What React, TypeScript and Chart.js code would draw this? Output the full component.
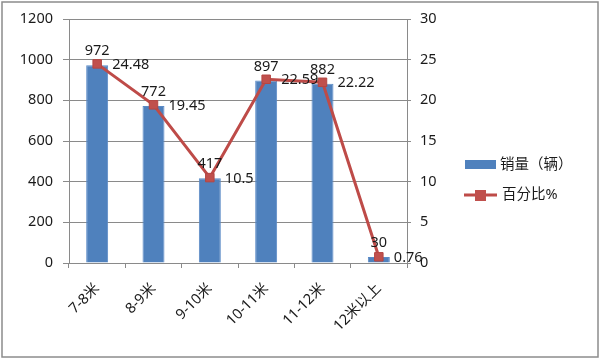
import React, { useEffect, useRef } from "react";
import { Chart, registerables } from "chart.js";

Chart.register(...registerables);

const categories = ["7-8米", "8-9米", "9-10米", "10-11米", "11-12米", "12米以上"];
const salesValues = [972, 772, 417, 897, 882, 30];
const percentValues = [24.48, 19.45, 10.5, 22.59, 22.22, 0.76];
const salesLabel = "销量（辆）";
const percentLabel = "百分比%";

const FONT = '"Noto Sans", "Noto Sans CJK SC", sans-serif';
const FS = 14.5;
const BAR_COLOR = "#4F81BD";
const LINE_COLOR = "#BE4B48";
const POINT_COLOR = "#C0504D";
const GRID = "#8a8a8a";
const TEXT = "#1a1a1a";

const labelPlugin = {
  id: "labelsAndLegend",
  afterDatasetsDraw(chart: any) {
    const ctx = chart.ctx;
    ctx.save();
    ctx.fillStyle = TEXT;
    ctx.font = `${FS}px ${FONT}`;
    const barMeta = chart.getDatasetMeta(0);
    barMeta.data.forEach((el: any, i: number) => {
      ctx.textAlign = "center";
      ctx.textBaseline = "alphabetic";
      ctx.fillText(String(salesValues[i]), el.x, el.y - 10);
    });
    const lineMeta = chart.getDatasetMeta(1);
    lineMeta.data.forEach((el: any, i: number) => {
      ctx.textAlign = "left";
      ctx.textBaseline = "middle";
      ctx.fillText(String(percentValues[i]), el.x + 15, el.y + 1);
    });
    ctx.restore();
  },
  afterDraw(chart: any) {
    const ctx = chart.ctx;
    ctx.save();
    ctx.font = `${FS}px ${FONT}`;
    ctx.fillStyle = BAR_COLOR;
    ctx.fillRect(465, 160, 31, 9);
    ctx.fillStyle = TEXT;
    ctx.textAlign = "left";
    ctx.textBaseline = "middle";
    ctx.fillText(salesLabel, 500, 165);
    ctx.strokeStyle = LINE_COLOR;
    ctx.lineWidth = 3;
    ctx.beginPath();
    ctx.moveTo(464, 195);
    ctx.lineTo(497, 195);
    ctx.stroke();
    ctx.fillStyle = POINT_COLOR;
    ctx.fillRect(475, 190, 11, 11);
    ctx.fillStyle = TEXT;
    ctx.fillText(percentLabel, 502, 195);
    ctx.strokeStyle = "#8c8c8c";
    ctx.lineWidth = 1.5;
    ctx.strokeRect(2, 2, 596, 355);
    ctx.restore();
  },
};

export default function App() {
  const ref = useRef<HTMLCanvasElement | null>(null);
  useEffect(() => {
    if (!ref.current) return;
    const chart = new Chart(ref.current, {
      type: "bar",
      data: {
        labels: categories,
        datasets: [
          {
            type: "bar",
            label: salesLabel,
            data: salesValues,
            backgroundColor: BAR_COLOR,
            borderColor: "#5a8ac6",
            borderWidth: 1,
            barPercentage: 0.39,
            categoryPercentage: 1,
            yAxisID: "y",
            order: 2,
          },
          {
            type: "line",
            label: percentLabel,
            data: percentValues,
            borderColor: LINE_COLOR,
            borderWidth: 3,
            pointStyle: "rect",
            pointRadius: 6,
            pointBackgroundColor: POINT_COLOR,
            pointBorderColor: "#b54643",
            pointBorderWidth: 1,
            yAxisID: "y1",
            order: 1,
          } as any,
        ],
      },
      options: {
        responsive: false,
        animation: false,
        layout: { padding: { top: 19, left: 0, right: 0, bottom: 0 } },
        plugins: { legend: { display: false }, tooltip: { enabled: false } },
        scales: {
          x: {
            offset: true,
            grid: {
              offset: true,
              drawOnChartArea: false,
              color: GRID,
              tickLength: 5,
            },
            border: { color: GRID },
            ticks: {
              color: TEXT,
              font: { family: FONT, size: FS },
              maxRotation: 45,
              minRotation: 45,
              padding: 12,
            },
            afterFit(scale: any) {
              scale.height = 96;
            },
          },
          y: {
            position: "left",
            min: 0,
            max: 1200,
            ticks: {
              stepSize: 200,
              color: TEXT,
              font: { family: FONT, size: FS },
              padding: 10,
              callback: (v: any) => String(v),
            },
            grid: { color: GRID, tickLength: 6 },
            border: { color: GRID },
            afterFit(scale: any) {
              scale.width = 69;
            },
          },
          y1: {
            position: "right",
            min: 0,
            max: 30,
            ticks: {
              stepSize: 5,
              color: TEXT,
              font: { family: FONT, size: FS },
              padding: 9,
              callback: (v: any) => String(v),
            },
            grid: { drawOnChartArea: false, color: GRID, tickLength: 4 },
            border: { color: GRID },
            afterFit(scale: any) {
              scale.width = 193;
            },
          },
        },
      },
      plugins: [labelPlugin],
    });
    return () => chart.destroy();
  }, []);
  return (
    <div style={{ position: "absolute", left: 0, top: 0, width: 600, height: 359, background: "#fff" }}>
      <canvas ref={ref} width={600} height={359} />
    </div>
  );
}
